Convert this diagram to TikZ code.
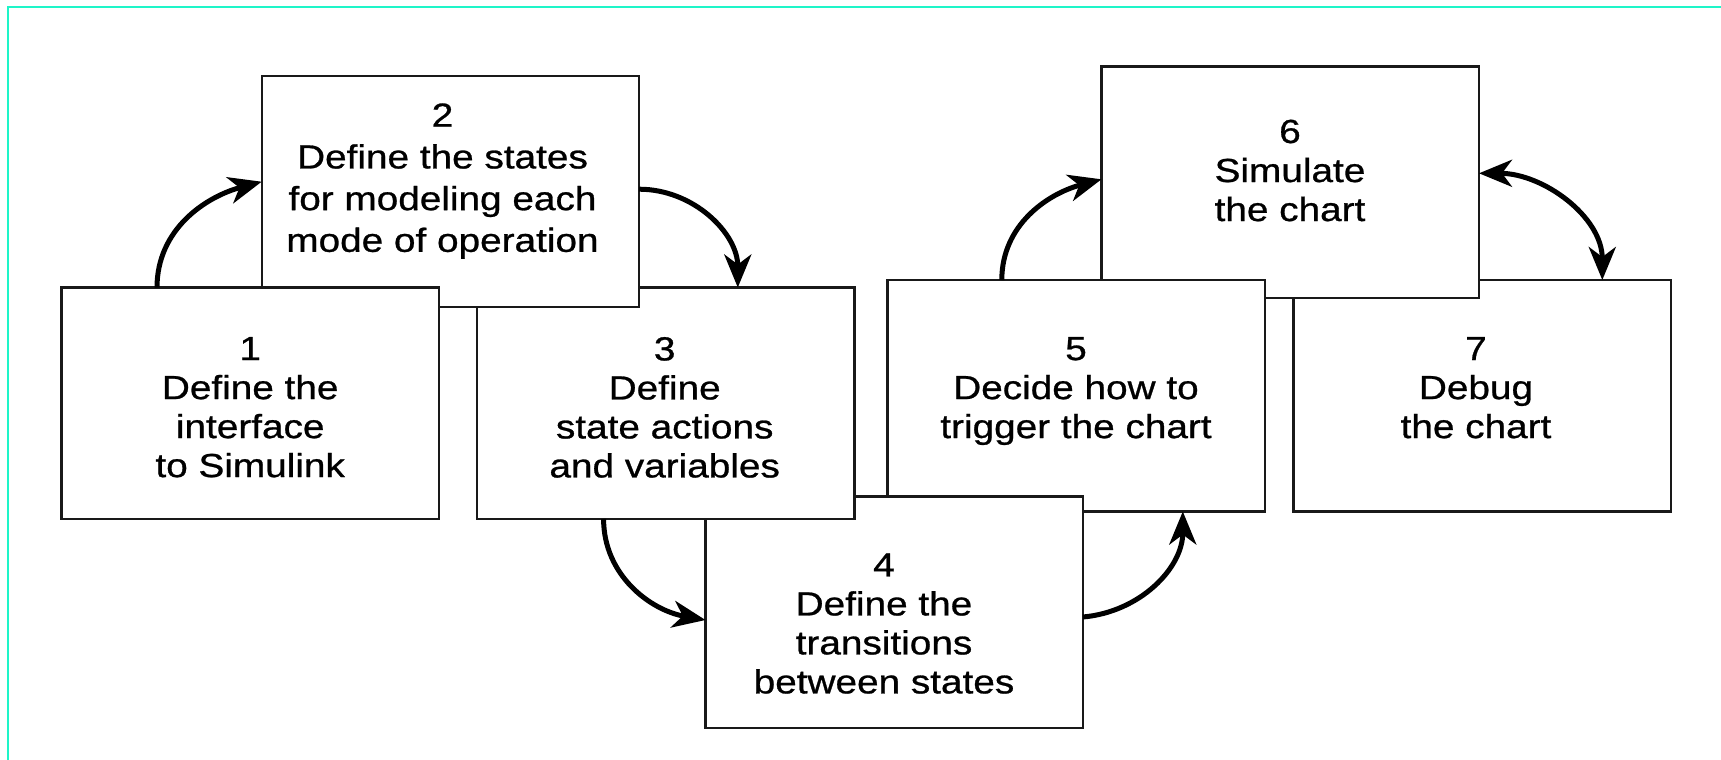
\documentclass[tikz,border=0pt]{standalone}
\usepackage{fontspec}
\setmainfont[FakeStretch=1.16,FakeBold=0.8]{Liberation Sans}
\usetikzlibrary{arrows.meta,calc}
\definecolor{framecol}{RGB}{30,245,200}
\definecolor{inkcol}{RGB}{25,25,25}
\begin{document}
\begin{tikzpicture}[x=0.5pt,y=-0.5pt,
  box/.style={draw=inkcol, line width=1.2pt, fill=white, minimum width=188.75pt, minimum height=115.75pt, inner sep=0pt, outer sep=0pt, anchor=north west},
  lbl/.style={align=center, anchor=north, inner sep=0pt, text=black, font=\fontsize{16.7pt}{19.5pt}\selectfont},
  lblwide/.style={lbl, font=\fontsize{16.7pt}{20.85pt}\selectfont},
  tipstyle/.style={},
  flow/.style={line width=2.5pt, draw=black, -{Stealth[length=16.5pt,width=13.5pt,inset=5pt]}},
  flowboth/.style={line width=2.5pt, draw=black, {Stealth[length=16.5pt,width=13.5pt,inset=5pt]}-{Stealth[length=16.5pt,width=13.5pt,inset=5pt]}}]
\useasboundingbox (0,0) rectangle (1721,760);
\fill[white] (0,0) rectangle (1721,760);
\draw[framecol, line width=1pt] (7.7,760) -- (7.7,7) -- (1721,7);

\node[box] (b7) at (1293.5,280) {};
\node[lbl] (t7) at (1476,336.7) {7\\Debug\\the chart};
\node[box] (b6) at (1101.5,66.3) {};
\node[lbl] (t6) at (1290,119.3) {6\\Simulate\\the chart};
\node[box] (b5) at (887.5,280) {};
\node[lbl] (t5) at (1076,336.7) {5\\Decide how to\\trigger the chart};
\node[box] (b4) at (705.5,496.5) {};
\node[lbl] (t4) at (884,553) {4\\Define the\\transitions\\between states};
\node[box] (b3) at (476.8,287.5) {};
\node[lbl] (t3) at (664.7,336.7) {3\\Define\\state actions\\and variables};
\node[box] (b2) at (261.7,75.7) {};
\node[lblwide] (t2) at (442.5,103) {2\\Define the states\\for modeling each\\mode of operation};
\node[box] (b1) at (61.5,287.6) {};
\node[lbl] (t1) at (250.2,336.7) {1\\Define the\\interface\\to Simulink};

\draw[flow] ($(b1.north west)+(95.5,0)$) to[out=90,in=195] ($(b2.north west)+(0,106)$);
\draw[flow] ($(b2.north east)+(0,113.5)$) to[out=0,in=90] ($(b3.north west)+(261,0)$);
\draw[flow] ($(b3.south west)+(126.8,0)$) to[out=-90,in=170] ($(b4.north west)+(0,123.5)$);
\draw[flow] ($(b4.north east)+(0,120.5)$) to[out=5,in=-90] ($(b5.south west)+(295.3,0)$);
\draw[flow] ($(b5.north west)+(114.3,0)$) to[out=90,in=195] ($(b6.north west)+(0,113)$);
\draw[flowboth] ($(b6.north east)+(0,107)$) to[out=0,in=90] ($(b7.north west)+(308.8,0)$);
\end{tikzpicture}
\end{document}
